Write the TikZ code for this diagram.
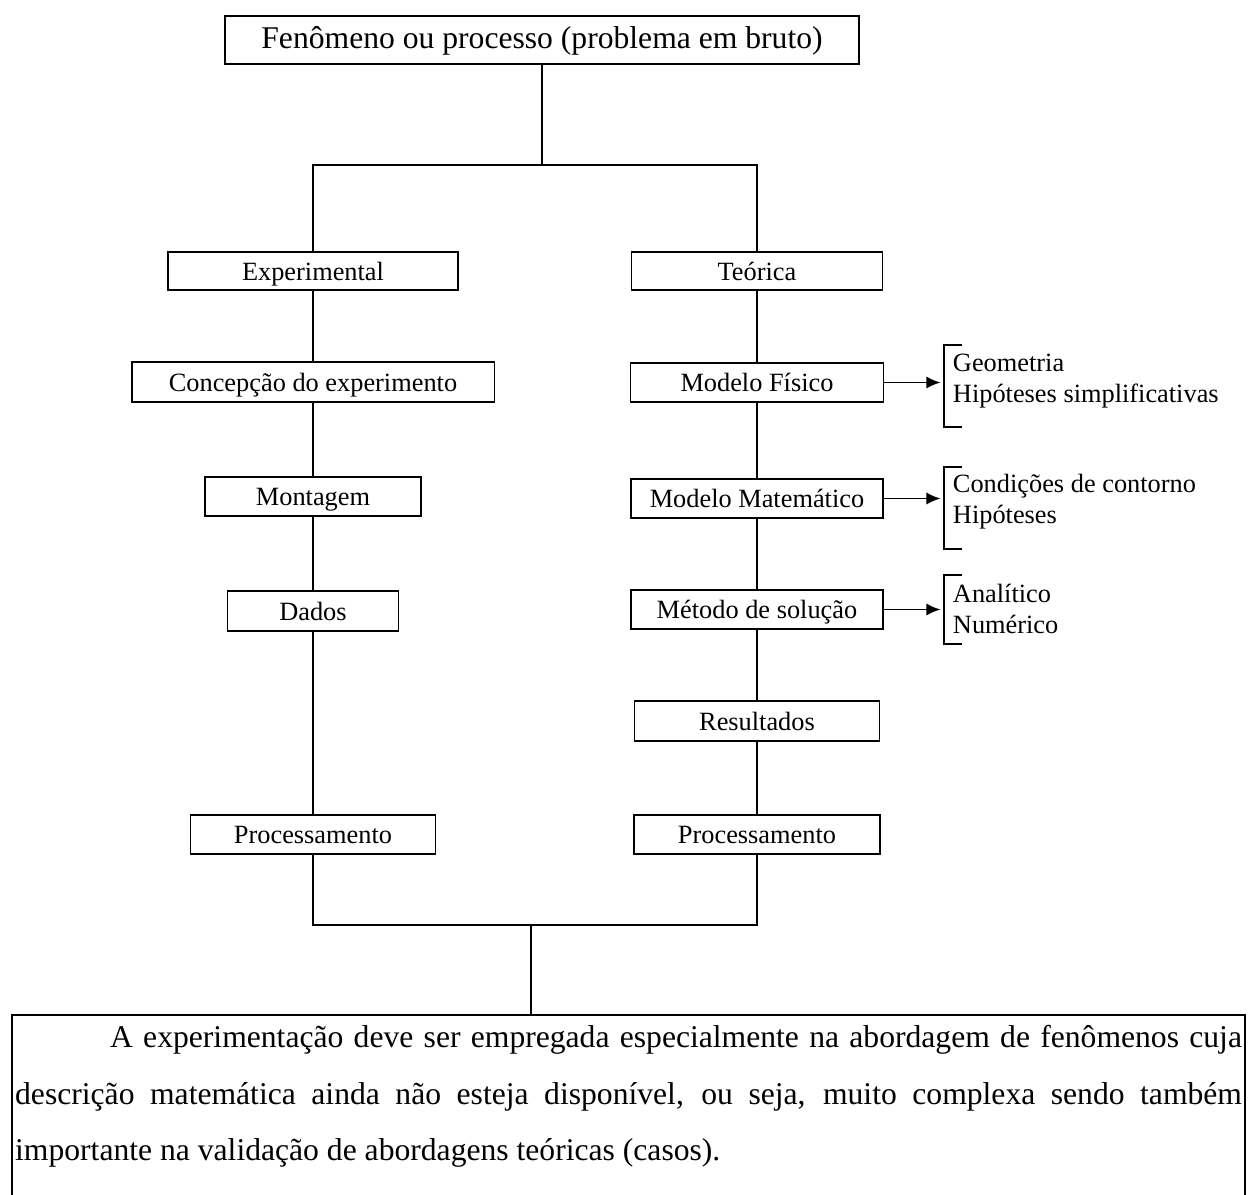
\documentclass[tikz,border=0pt]{standalone}
\usepackage{fontspec}
\setmainfont{Liberation Serif}
\usetikzlibrary{arrows.meta}

\begin{document}
\begin{tikzpicture}[x=0.02cm,y=-0.02cm,line width=1.1pt,
    box/.style={draw,inner sep=0pt,minimum height=0.78cm,text height=13.5pt,text depth=3.2pt,font=\fontsize{15}{18}\selectfont},
    lista/.style={anchor=west,inner sep=0pt,align=left,font=\fontsize{15}{17.6}\selectfont},
    seta/.style={-{Latex[length=8pt,width=7pt]},shorten >=2pt}]
      \clip (0,0) rectangle (1248,1194);
      % topo
      \node[box,minimum width=12.7cm,minimum height=0.96cm,text height=14pt,text depth=3.9pt,font=\fontsize{18}{21}\selectfont] (fen) at (542,40) {Fenômeno ou processo (problema em bruto)};
      \coordinate (split) at (542,165);
      % ramo experimental
      \node[box,minimum width=5.81cm,minimum height=0.76cm] (exp) at (313,271) {Experimental};
      \node[box,minimum width=7.26cm,minimum height=0.8cm] (conc) at (313,382) {Concepção do experimento};
      \node[box,minimum width=4.32cm] (mont) at (313,496.5) {Montagem};
      \node[box,minimum width=3.42cm,minimum height=0.8cm] (dados) at (313,611) {Dados};
      \node[box,minimum width=4.9cm] (procL) at (313,834.5) {Processamento};
      % ramo teorico
      \node[box,minimum width=5.02cm,minimum height=0.76cm] (teo) at (757,271) {Teórica};
      \node[box,minimum width=5.06cm] (fis) at (757,382.5) {Modelo Físico};
      \node[box,minimum width=5.04cm] (mat) at (757,498.5) {Modelo Matemático};
      \node[box,minimum width=5.04cm] (met) at (757,609.5) {Método de solução};
      \node[box,minimum width=4.9cm,minimum height=0.8cm] (res) at (757,721) {Resultados};
      \node[box,minimum width=4.92cm] (procR) at (757,834.5) {Processamento};
      % listas
      \node[lista] (g1) at (952,381) {Geometria\\Hipóteses simplificativas};
      \node[lista] (g2) at (952,502) {Condições de contorno\\Hipóteses};
      \node[lista] (g3) at (952,609) {Analítico\\Numérico};
      \coordinate (k1) at (944,386);
      \coordinate (k2) at (944,508);
      \coordinate (k3) at (944,610);
      \draw (962,345) -- (944,345) -- (944,427) -- (962,427);
      \draw (962,467) -- (944,467) -- (944,549) -- (962,549);
      \draw (962,575) -- (944,575) -- (944,644) -- (962,644);
      \draw[seta] (fis.east) -- (fis.east -| k1);
      \draw[seta] (mat.east) -- (mat.east -| k2);
      \draw[seta] (met.east) -- (met.east -| k3);
      % nota final
      \node[draw,anchor=north west,text width=24.54cm,inner xsep=0.07cm,inner ysep=0pt,align=justify,
            font=\fontsize{18}{32}\selectfont] (nota) at (10.7,1014)
        {\hspace*{1.9cm}\rule{0pt}{0.66cm}A experimentação deve ser empregada especialmente na abordagem de fenômenos cuja\linebreak
         descrição matemática ainda não esteja disponível, ou seja, muito complexa sendo também\linebreak
         importante na validação de abordagens teóricas (casos).\rule[-2cm]{0pt}{2cm}};
      \coordinate (merge) at (531,925);
      % ligacoes
      \draw (fen) -- (split);
      \draw (exp) |- (split) -| (teo);
      \draw (exp) -- (conc) -- (mont) -- (dados) -- (procL);
      \draw (teo) -- (fis) -- (mat) -- (met) -- (res) -- (procR);
      \draw (procL) |- (merge) -| (procR);
      \draw (merge) -- (merge |- nota.north);
\end{tikzpicture}
\end{document}
